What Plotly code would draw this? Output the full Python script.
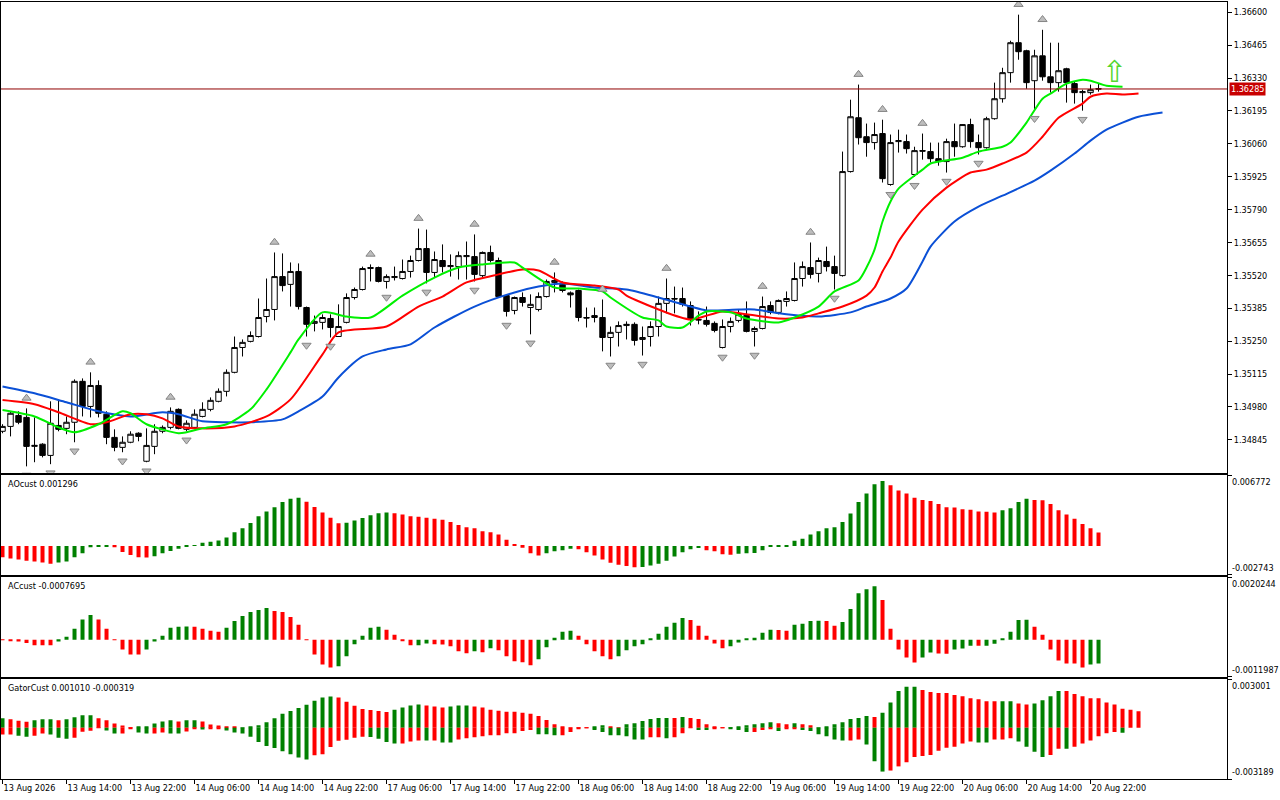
import numpy as np
import plotly.graph_objects as go
from plotly.subplots import make_subplots

# ---- H1 candles, bar 0 = 13 Aug 06:00 ----
open_ = [1.34880, 1.34900, 1.34945, 1.34937, 1.34818, 1.34827, 1.34781, 1.34904, 1.34892, 1.34917,
         1.35085, 1.34982, 1.35068, 1.34950, 1.34855, 1.34814, 1.34835, 1.34872, 1.34757, 1.34818,
         1.34880, 1.34896, 1.34970, 1.34888, 1.34896, 1.34941, 1.34970, 1.35003, 1.35044, 1.35122,
         1.35224, 1.35249, 1.35269, 1.35351, 1.35380, 1.35515, 1.35483, 1.35536, 1.35388, 1.35323,
         1.35327, 1.35343, 1.35269, 1.35327, 1.35429, 1.35462, 1.35548, 1.35552, 1.35495, 1.35511,
         1.35507, 1.35536, 1.35581, 1.35630, 1.35532, 1.35581, 1.35556, 1.35556, 1.35597, 1.35597,
         1.35519, 1.35614, 1.35581, 1.35437, 1.35376, 1.35429, 1.35388, 1.35380, 1.35433, 1.35491,
         1.35483, 1.35448, 1.35458, 1.35347, 1.35347, 1.35347, 1.35265, 1.35286, 1.35314, 1.35319,
         1.35257, 1.35269, 1.35310, 1.35405, 1.35425, 1.35425, 1.35396, 1.35339, 1.35335, 1.35323,
         1.35224, 1.35310, 1.35335, 1.35355, 1.35290, 1.35302, 1.35396, 1.35368, 1.35413, 1.35417,
         1.35507, 1.35552, 1.35528, 1.35577, 1.35556, 1.35519, 1.35946, 1.36167, 1.36089, 1.36065,
         1.36102, 1.35893, 1.36069, 1.36069, 1.35934, 1.36032, 1.36028, 1.35999, 1.35987, 1.36069,
         1.36048, 1.36139, 1.36065, 1.36044, 1.36163, 1.36245, 1.36352, 1.36475, 1.36442, 1.36319,
         1.36421, 1.36335, 1.36311, 1.36368, 1.36307, 1.36270, 1.36270, 1.36286]
high = [1.34909, 1.34962, 1.34962, 1.34974, 1.34937, 1.34831, 1.35003, 1.35011, 1.34941, 1.35093,
        1.35097, 1.35122, 1.35089, 1.34962, 1.34888, 1.34859, 1.34880, 1.34876, 1.34892, 1.34909,
        1.34904, 1.34978, 1.34974, 1.34925, 1.34970, 1.34999, 1.35019, 1.35056, 1.35134, 1.35269,
        1.35257, 1.35290, 1.35425, 1.35507, 1.35614, 1.35610, 1.35573, 1.35569, 1.35392, 1.35355,
        1.35360, 1.35360, 1.35401, 1.35446, 1.35470, 1.35556, 1.35565, 1.35556, 1.35524, 1.35556,
        1.35585, 1.35601, 1.35712, 1.35708, 1.35618, 1.35647, 1.35606, 1.35618, 1.35659, 1.35688,
        1.35618, 1.35642, 1.35593, 1.35442, 1.35433, 1.35450, 1.35442, 1.35450, 1.35503, 1.35532,
        1.35495, 1.35454, 1.35462, 1.35388, 1.35388, 1.35421, 1.35310, 1.35331, 1.35331, 1.35327,
        1.35310, 1.35331, 1.35433, 1.35507, 1.35474, 1.35470, 1.35413, 1.35372, 1.35392, 1.35331,
        1.35339, 1.35347, 1.35380, 1.35413, 1.35310, 1.35433, 1.35413, 1.35421, 1.35454, 1.35573,
        1.35577, 1.35655, 1.35593, 1.35638, 1.35601, 1.36028, 1.36241, 1.36303, 1.36143, 1.36147,
        1.36159, 1.36098, 1.36118, 1.36098, 1.36048, 1.36102, 1.36065, 1.36065, 1.36081, 1.36143,
        1.36141, 1.36163, 1.36098, 1.36171, 1.36311, 1.36372, 1.36483, 1.36590, 1.36446, 1.36446,
        1.36528, 1.36475, 1.36475, 1.36372, 1.36315, 1.36282, 1.36303, 1.36307]
low = [1.34872, 1.34859, 1.34909, 1.34736, 1.34753, 1.34773, 1.34745, 1.34880, 1.34868, 1.34835,
       1.34941, 1.34937, 1.34937, 1.34827, 1.34798, 1.34794, 1.34831, 1.34839, 1.34753, 1.34786,
       1.34872, 1.34888, 1.34888, 1.34880, 1.34888, 1.34937, 1.34962, 1.34999, 1.35023, 1.35118,
       1.35187, 1.35245, 1.35265, 1.35327, 1.35335, 1.35454, 1.35392, 1.35380, 1.35269, 1.35290,
       1.35298, 1.35265, 1.35269, 1.35323, 1.35421, 1.35458, 1.35495, 1.35491, 1.35466, 1.35499,
       1.35503, 1.35511, 1.35577, 1.35487, 1.35511, 1.35532, 1.35515, 1.35503, 1.35503, 1.35495,
       1.35511, 1.35573, 1.35429, 1.35351, 1.35360, 1.35392, 1.35278, 1.35372, 1.35429, 1.35450,
       1.35450, 1.35388, 1.35331, 1.35306, 1.35327, 1.35208, 1.35187, 1.35228, 1.35257, 1.35232,
       1.35191, 1.35228, 1.35269, 1.35364, 1.35364, 1.35392, 1.35314, 1.35319, 1.35310, 1.35286,
       1.35220, 1.35286, 1.35327, 1.35286, 1.35228, 1.35298, 1.35360, 1.35360, 1.35392, 1.35413,
       1.35474, 1.35507, 1.35491, 1.35536, 1.35462, 1.35515, 1.35942, 1.36057, 1.36007, 1.36036,
       1.35901, 1.35888, 1.36024, 1.36020, 1.35925, 1.35995, 1.35983, 1.35970, 1.35942, 1.36007,
       1.36044, 1.36044, 1.36016, 1.36040, 1.36159, 1.36229, 1.36311, 1.36405, 1.36286, 1.36200,
       1.36319, 1.36270, 1.36274, 1.36229, 1.36225, 1.36196, 1.36262, 1.36274]
close = [1.34900, 1.34954, 1.34917, 1.34818, 1.34822, 1.34781, 1.34913, 1.34888, 1.34917, 1.35085,
         1.34982, 1.35068, 1.34954, 1.34855, 1.34814, 1.34835, 1.34868, 1.34859, 1.34822, 1.34880,
         1.34896, 1.34962, 1.34892, 1.34913, 1.34950, 1.34970, 1.35007, 1.35044, 1.35122, 1.35224,
         1.35245, 1.35273, 1.35347, 1.35380, 1.35515, 1.35478, 1.35536, 1.35392, 1.35319, 1.35331,
         1.35347, 1.35306, 1.35310, 1.35429, 1.35462, 1.35548, 1.35552, 1.35495, 1.35515, 1.35515,
         1.35536, 1.35581, 1.35630, 1.35532, 1.35585, 1.35556, 1.35560, 1.35601, 1.35601, 1.35524,
         1.35614, 1.35581, 1.35433, 1.35372, 1.35429, 1.35409, 1.35401, 1.35433, 1.35495, 1.35499,
         1.35458, 1.35440, 1.35347, 1.35345, 1.35355, 1.35265, 1.35286, 1.35314, 1.35319, 1.35253,
         1.35265, 1.35310, 1.35405, 1.35425, 1.35423, 1.35401, 1.35339, 1.35337, 1.35319, 1.35294,
         1.35310, 1.35331, 1.35360, 1.35290, 1.35302, 1.35392, 1.35368, 1.35417, 1.35425, 1.35507,
         1.35556, 1.35524, 1.35581, 1.35556, 1.35528, 1.35946, 1.36171, 1.36085, 1.36065, 1.36098,
         1.35917, 1.36065, 1.36073, 1.36040, 1.36032, 1.36030, 1.35999, 1.35987, 1.36069, 1.36048,
         1.36139, 1.36069, 1.36044, 1.36163, 1.36245, 1.36352, 1.36475, 1.36438, 1.36311, 1.36421,
         1.36335, 1.36311, 1.36360, 1.36311, 1.36270, 1.36274, 1.36282, 1.36285]

time_labels = ["13 Aug 2026", "13 Aug 14:00", "13 Aug 22:00", "14 Aug 06:00", "14 Aug 14:00",
               "14 Aug 22:00", "17 Aug 06:00", "17 Aug 14:00", "17 Aug 22:00", "18 Aug 06:00",
               "18 Aug 14:00", "18 Aug 22:00", "19 Aug 06:00", "19 Aug 14:00", "19 Aug 22:00",
               "20 Aug 06:00", "20 Aug 14:00", "20 Aug 22:00"]
label_step = 8  # one label every 8 bars
price_ticks = [1.34845, 1.34980, 1.35115, 1.35250, 1.35385, 1.35520, 1.35655,
               1.35790, 1.35925, 1.36060, 1.36195, 1.36330, 1.36465, 1.36600]

# fractals (bar numbers)
fractal_up = [3, 11, 21, 34, 46, 52, 59, 69, 75, 83, 95, 101, 107, 110, 115, 127, 130]
fractal_down = [3, 6, 9, 15, 18, 23, 38, 41, 48, 53, 59, 63, 66, 76, 80, 90, 94,
                104, 111, 114, 118, 122, 129, 135]

# alligator (shifted lines run past the last bar)
jaw_bar = [0, 4, 8, 12, 16, 20, 22, 25, 28, 31, 35, 37, 40, 42, 45, 48, 51, 54, 59, 64, 67, 70, 74,
           78, 82, 86, 88, 92, 94, 98, 102, 106, 108, 111, 113, 115, 116, 119, 122, 125, 129, 131,
           134, 136, 138, 140, 142, 145]
jaw = [1.35064, 1.35036, 1.34999, 1.34962, 1.34941, 1.34958, 1.34950, 1.34921, 1.34917, 1.34917,
       1.34929, 1.34962, 1.35023, 1.35101, 1.35187, 1.35216, 1.35237, 1.35306, 1.35392, 1.35450,
       1.35474, 1.35487, 1.35470, 1.35462, 1.35429, 1.35392, 1.35376, 1.35380, 1.35380, 1.35360,
       1.35351, 1.35368, 1.35392, 1.35425, 1.35466, 1.35577, 1.35638, 1.35741, 1.35802, 1.35847,
       1.35909, 1.35950, 1.36020, 1.36073, 1.36118, 1.36147, 1.36171, 1.36188]
teeth_bar = [0, 4, 7, 11, 13, 16, 18, 20, 22, 25, 29, 33, 36, 40, 42, 48, 52, 55, 58, 62, 65, 67, 70,
             74, 77, 78, 82, 86, 90, 93, 97, 100, 102, 105, 108, 109, 110, 111, 112, 115, 118, 121,
             123, 125, 128, 130, 132, 135, 136, 138, 140, 142]
teeth = [1.35008, 1.34991, 1.34958, 1.34909, 1.34917, 1.34950, 1.34950, 1.34933, 1.34900, 1.34892,
         1.34900, 1.34941, 1.35011, 1.35196, 1.35286, 1.35310, 1.35392, 1.35433, 1.35491, 1.35524,
         1.35544, 1.35540, 1.35491, 1.35478, 1.35462, 1.35437, 1.35380, 1.35339, 1.35372, 1.35360,
         1.35343, 1.35347, 1.35364, 1.35392, 1.35437, 1.35470, 1.35536, 1.35593, 1.35659, 1.35790,
         1.35880, 1.35942, 1.35954, 1.35979, 1.36024, 1.36089, 1.36167, 1.36225, 1.36253, 1.36266,
         1.36262, 1.36266]
lips_bar = [0, 4, 7, 9, 12, 15, 16, 18, 22, 23, 25, 28, 31, 33, 36, 37, 40, 43, 46, 50, 54, 57, 60,
            64, 65, 69, 72, 75, 76, 80, 82, 83, 85, 87, 88, 91, 93, 97, 99, 102, 104, 107, 108, 109,
            110, 111, 112, 115, 116, 120, 122, 125, 126, 128, 130, 131, 133, 135, 136, 138, 140]
lips = [1.34967, 1.34941, 1.34896, 1.34876, 1.34909, 1.34962, 1.34954, 1.34909, 1.34872, 1.34876,
        1.34892, 1.34909, 1.34970, 1.35052, 1.35204, 1.35257, 1.35368, 1.35351, 1.35347, 1.35437,
        1.35511, 1.35552, 1.35565, 1.35573, 1.35552, 1.35470, 1.35466, 1.35454, 1.35429, 1.35347,
        1.35335, 1.35310, 1.35306, 1.35355, 1.35372, 1.35368, 1.35343, 1.35327, 1.35347, 1.35392,
        1.35454, 1.35499, 1.35552, 1.35626, 1.35741, 1.35823, 1.35876, 1.35954, 1.35979, 1.36003,
        1.36028, 1.36048, 1.36065, 1.36147, 1.36245, 1.36266, 1.36307, 1.36323, 1.36319, 1.36298,
        1.36294]

signal_bar, signal_price = 139, 1.36345

# ---- oscillators ----
ao = [-10.7, -12.0, -13.0, -14.0, -14.7, -15.7, -17.0, -15.7, -14.7, -10.7,
      -7.0, -1.3, -0.7, -0.5, -1.3, -5.7, -8.7, -10.7, -11.0, -9.7,
      -7.0, -4.7, -2.7, -0.7, 0.7, 3.0, 4.0, 5.3, 8.0, 13.0,
      17.0, 22.0, 28.3, 33.0, 37.0, 42.0, 45.0, 46.0, 42.3, 37.3,
      32.0, 27.0, 21.7, 22.3, 24.3, 26.7, 29.3, 31.3, 32.0, 31.3,
      30.0, 28.3, 28.0, 27.0, 26.0, 25.0, 23.0, 20.0, 18.0, 17.0,
      14.0, 13.0, 11.0, 6.0, 2.0, -1.7, -7.0, -9.0, -7.0, -5.0,
      -4.0, -2.7, -3.0, -6.0, -9.0, -13.0, -16.0, -18.0, -19.0, -20.3,
      -20.0, -18.7, -17.0, -14.0, -10.0, -6.0, -3.0, -2.0, -4.0, -5.0,
      -8.0, -8.3, -7.3, -7.0, -6.7, -4.0, -1.0, -0.7, -0.3, 5.0,
      7.0, 11.0, 14.0, 17.0, 18.0, 23.0, 31.0, 42.0, 50.0, 59.0,
      62.0, 58.0, 53.0, 50.0, 46.0, 44.0, 43.0, 40.0, 37.0, 36.7,
      35.0, 34.7, 33.0, 32.7, 32.0, 34.0, 36.0, 42.0, 45.0, 44.0,
      43.7, 40.0, 34.0, 30.0, 26.0, 21.0, 17.0, 12.96]  # x1e-4
ac = [-1.6, -3.2, -5.5, -10.6, -18.3, -18.3, -18.3, -5.5, 9.6, 35.3,
      65.2, 80.3, 65.2, 35.3, -1.0, -32.1, -48.2, -48.2, -32.1, -5.5,
      12.8, 38.5, 41.7, 42.7, 41.7, 35.3, 28.9, 25.7, 38.5, 61.0,
      77.0, 89.9, 96.3, 102.7, 93.1, 89.9, 73.8, 48.2, -1.0, -48.2,
      -80.3, -89.9, -85.7, -53.6, -15.1, 12.8, 38.5, 41.7, 32.1, 16.1,
      -4.8, -18.3, -18.0, -11.9, -15.1, -15.4, -21.5, -37.6, -44.0, -37.6,
      -40.8, -27.9, -34.3, -53.6, -69.7, -72.9, -82.5, -63.2, -24.7, 6.4,
      25.7, 28.9, 12.8, -15.1, -37.6, -53.6, -63.2, -53.6, -34.3, -21.5,
      -15.1, 2.2, 19.3, 41.7, 54.6, 70.6, 64.2, 44.9, 12.8, -11.9,
      -27.9, -21.5, -8.7, 2.2, 6.4, 22.5, 32.1, 31.8, 28.9, 48.2,
      51.4, 61.0, 61.3, 60.7, 44.9, 57.8, 99.5, 150.9, 163.7, 173.3,
      128.4, 35.3, -32.1, -57.8, -73.8, -57.8, -41.7, -44.9, -45.2, -32.1,
      -28.9, -19.3, -19.6, -19.2, -12.8, 2.2, 25.7, 64.2, 64.5, 41.7,
      16.1, -32.1, -67.4, -77.0, -77.3, -89.9, -80.3, -76.95]  # x1e-5
gator_up = [5.81, 5.16, 4.32, 3.68, 4.52, 5.16, 5.16, 4.52, 5.16, 6.45,
            7.74, 7.74, 5.81, 4.52, 2.58, 1.29, 0.19, 0.65, 0.32, 2.58,
            3.87, 4.52, 3.87, 4.52, 4.52, 3.87, 1.94, 1.29, 0.65, 0.65,
            0.19, 0.65, 1.48, 3.42, 5.81, 8.58, 10.32, 12.26, 14.19, 16.77,
            18.71, 19.35, 18.71, 16.13, 13.55, 11.61, 10.97, 10.32, 9.68, 11.16,
            12.45, 13.74, 14.38, 13.74, 13.09, 12.45, 13.09, 13.74, 13.74, 13.09,
            12.45, 11.16, 10.51, 9.87, 9.87, 9.22, 8.58, 7.29, 4.71, 2.13,
            0.84, 0.19, 0.19, 0.19, 0.84, 1.48, 0.84, 0.19, 2.13, 2.77,
            4.06, 5.35, 6.00, 6.00, 6.00, 6.64, 6.00, 5.35, 2.13, 0.65,
            0.19, 0.19, 0.84, 1.48, 2.13, 2.77, 3.42, 2.77, 2.13, 2.77,
            2.13, 1.48, 0.19, 0.84, 2.13, 3.42, 5.35, 6.00, 7.29, 6.64,
            9.22, 15.67, 22.77, 25.35, 25.35, 23.41, 22.12, 21.48, 21.48, 20.19,
            19.54, 18.25, 17.61, 16.32, 16.32, 16.32, 16.32, 15.03, 14.38, 15.03,
            16.96, 19.54, 22.77, 22.77, 20.83, 19.54, 18.25, 18.25, 15.67, 14.38,
            11.80, 11.16, 10.10]  # x1e-4
# u = bar grew against the previous one, d = it shrank
gator_up_dir = ("uddduuuduu" "uuddddduuu" "uuduuddddd" "uuuuuuuuuu" "uudddddddu"
                "uuuddduuud" "dddddddddd" "dddduudduu" "uuuududddd" "duuuuuuddu"
                "dduuuuuuud" "uuuuuddddd" "ddddduuddu" "uuuddddddd" "ddd")
gator_dn = [4.32, 4.32, 4.97, 5.61, 4.97, 3.68, 4.32, 6.26, 6.90, 6.26,
            2.58, 1.94, 0.19, 1.74, 3.68, 3.68, 0.45, 3.03, 3.68, 3.68,
            3.03, 3.68, 3.68, 2.39, 0.65, 1.10, 0.65, 0.65, 1.74, 3.03,
            3.68, 5.61, 8.84, 11.42, 12.71, 14.64, 16.58, 18.51, 19.80, 17.22,
            16.58, 12.06, 8.19, 7.55, 6.26, 5.61, 5.81, 6.90, 8.84, 9.87,
            9.87, 8.58, 7.93, 7.93, 7.93, 9.22, 9.22, 7.29, 6.64, 6.00,
            5.35, 4.71, 4.71, 3.42, 3.42, 2.13, 1.48, 4.06, 4.06, 4.71,
            4.71, 2.77, 0.84, 0.19, 1.48, 2.77, 4.71, 4.71, 5.35, 7.29,
            7.29, 6.00, 6.00, 6.64, 6.00, 3.42, 0.19, 1.48, 1.48, 0.84,
            0.19, 0.84, 1.48, 2.77, 2.77, 1.48, 0.84, 2.13, 0.84, 0.84,
            1.48, 2.13, 4.06, 5.35, 7.29, 7.93, 7.93, 7.29, 10.51, 20.83,
            27.28, 26.64, 24.06, 21.48, 18.25, 17.61, 16.96, 14.38, 12.45, 11.80,
            9.87, 8.58, 9.22, 9.22, 7.29, 7.29, 6.64, 8.58, 11.80, 15.03,
            18.25, 16.96, 13.09, 13.09, 11.80, 9.87, 7.93, 5.35, 3.42, 2.77,
            3.19]  # x1e-4, drawn below zero
gator_dn_dir = ("dduudduuud" "ddduudduud" "duuddudduu" "uuuuuuuuud" "dddddduuuu"
                "ddduduuddd" "ddddddduuu" "dddduuuuuu" "udduddduud" "duuudddudd"
                "uuuuuudduu" "uddddddddd" "dduuddduuu" "uddudddddd" "u")

# scale ends printed on the right of each indicator pane (min, max)
ao_scale = [-0.002743, 0.006772]
ac_scale = [-0.0011987, 0.0020244]
gator_scale = [-0.003189, 0.003001]

# ---- derived ----
bars = np.arange(len(close))
high_a, low_a = np.array(high), np.array(low)
ao_v = np.array(ao) * 1e-4
ac_v = np.array(ac) * 1e-5
gu_v = np.array(gator_up) * 1e-4
gd_v = -np.array(gator_dn) * 1e-4

GREEN, RED = "#008000", "#FF0000"


def rising_colors(v):
    return [RED] + [GREEN if v[i] > v[i - 1] else RED for i in range(1, len(v))]


def dir_colors(s):
    return [GREEN if c == "u" else RED for c in s]


fig = make_subplots(rows=4, cols=1, shared_xaxes=True, vertical_spacing=0.0)

fig.add_trace(go.Candlestick(
    x=bars, open=open_, high=high, low=low, close=close,
    increasing=dict(line=dict(color="black", width=1), fillcolor="white"),
    decreasing=dict(line=dict(color="black", width=1), fillcolor="black"),
    whiskerwidth=0, hoverinfo="skip"), row=1, col=1)

for xs, ys, col in [(jaw_bar, jaw, "#0B50D6"), (teeth_bar, teeth, "#FF0000"), (lips_bar, lips, "#00F000")]:
    fig.add_trace(go.Scatter(x=xs, y=ys, mode="lines",
                             line=dict(color=col, width=2, shape="spline", smoothing=0.7),
                             hoverinfo="skip"), row=1, col=1)

fig.add_trace(go.Scatter(
    x=fractal_up, y=high_a[fractal_up] + 0.00042, mode="markers",
    marker=dict(symbol="triangle-up", size=8, color="#BDBDBD", line=dict(color="#858585", width=1)),
    hoverinfo="skip"), row=1, col=1)
fig.add_trace(go.Scatter(
    x=fractal_down, y=low_a[fractal_down] - 0.00036, mode="markers",
    marker=dict(symbol="triangle-down", size=8, color="#BDBDBD", line=dict(color="#858585", width=1)),
    hoverinfo="skip"), row=1, col=1)

fig.add_trace(go.Scatter(
    x=[signal_bar], y=[signal_price], mode="text", text=["\u21e7"],
    textfont=dict(size=30, color="#55D630", family="DejaVu Sans"), hoverinfo="skip"), row=1, col=1)

fig.add_hline(y=close[-1], line=dict(color="#900000", width=1), row=1, col=1)

fig.add_trace(go.Bar(x=bars, y=ao_v, marker=dict(color=rising_colors(ao_v), line=dict(width=0)),
                     width=0.5, hoverinfo="skip"), row=2, col=1)
fig.add_trace(go.Bar(x=bars, y=ac_v, marker=dict(color=rising_colors(ac_v), line=dict(width=0)),
                     width=0.5, hoverinfo="skip"), row=3, col=1)
fig.add_trace(go.Bar(x=np.arange(len(gu_v)), y=gu_v,
                     marker=dict(color=dir_colors(gator_up_dir), line=dict(width=0)),
                     width=0.5, hoverinfo="skip"), row=4, col=1)
fig.add_trace(go.Bar(x=np.arange(len(gd_v)), y=gd_v,
                     marker=dict(color=dir_colors(gator_dn_dir), line=dict(width=0)),
                     width=0.5, hoverinfo="skip"), row=4, col=1)

FONT = "DejaVu Sans Condensed, DejaVu Sans"
axis_common = dict(showline=True, linecolor="black", linewidth=1, mirror=True,
                   showgrid=False, zeroline=False)
xr = [-0.19, 153.06]
for n in (1, 2, 3):
    fig.update_xaxes(**axis_common, range=xr, showticklabels=False, ticks="", row=n, col=1)
fig.update_xaxes(**axis_common, range=xr, row=4, col=1,
                 tickmode="array", tickvals=list(range(0, len(time_labels) * label_step, label_step)),
                 ticktext=time_labels, ticks="outside", ticklen=4, tickcolor="black",
                 ticklabelposition="outside right", showticklabels=True)

ytick = dict(side="right", ticks="outside", ticklen=4, tickcolor="black", tickmode="array")
fig.update_yaxes(**axis_common, **ytick, range=[1.34710, 1.36642],
                 tickvals=price_ticks, tickformat=".5f", domain=[0.3942, 1.0], row=1, col=1)

panes = [(2, "y2", ao_scale, 6, [0.2629, 0.3912]),
         (3, "y3", ac_scale, 7, [0.1317, 0.2596]),
         (4, "y4", gator_scale, 6, [0.0, 0.1283])]
for row, yr, scale, dec, dom in panes:
    fig.update_yaxes(**axis_common, **ytick, range=scale, tickvals=scale, showticklabels=False,
                     domain=dom, row=row, col=1)
    # MT5 prints the max just under the pane top and the min just above its bottom
    for val, anchor in zip(scale, ("bottom", "top")):
        fig.add_annotation(xref="paper", x=1, yref=yr, y=val, xanchor="left", yanchor=anchor,
                           xshift=3, text=f"{val:.{dec}f}", showarrow=False,
                           font=dict(family=FONT, size=9, color="black"))

# pane headers
heads = [("y2", f"AOcust {ao_v[-1]:.6f}"),
         ("y3", f"ACcust {ac_v[-1]:.7f}"),
         ("y4", f"GatorCust {gu_v[-1]:.6f} {gd_v[-1]:.6f}")]
for yr, txt in heads:
    fig.add_annotation(xref="paper", x=0.004, yref=f"{yr} domain", y=1, xanchor="left",
                       yanchor="top", yshift=-2, text=txt, showarrow=False,
                       font=dict(family=FONT, size=9, color="black"))

# last price tag
fig.add_annotation(xref="paper", x=1, yref="y", y=close[-1], xanchor="left", yanchor="middle",
                   xshift=2, text=f"{close[-1]:.5f}", showarrow=False, bgcolor="#C80000",
                   borderpad=1, font=dict(family=FONT, size=9, color="white"))

fig.update_layout(
    template="none", width=1280, height=800, showlegend=False,
    paper_bgcolor="white", plot_bgcolor="white",
    margin=dict(l=1, r=53, t=2, b=21),
    font=dict(family=FONT, size=9, color="black"),
    barmode="overlay", boxgap=0.2, boxgroupgap=0.15,
    xaxis_rangeslider_visible=False,
)

# the page's default 8px body margin would push the chart off the 1280x800 window
fig.write_html("out.html", config={"displayModeBar": False},
               post_script="document.body.style.margin='0px';")
